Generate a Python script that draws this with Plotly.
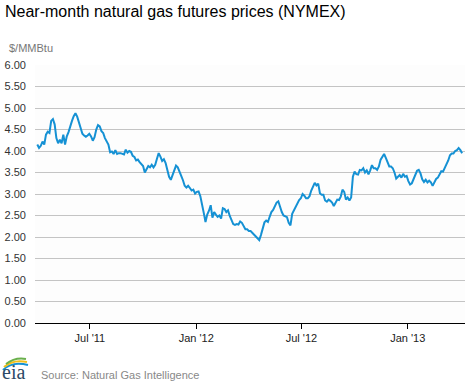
import pandas as pd
import plotly.graph_objects as go

# ---- data ----
start_date = "2011-04-01"
step = "3D"
prices = [
    4.15, 4.07, 4.12, 4.22, 4.15, 4.38, 4.45, 4.42, 4.70, 4.74,
    4.62, 4.30, 4.18, 4.26, 4.18, 4.38, 4.15, 4.34, 4.44, 4.59,
    4.70, 4.81, 4.88, 4.80, 4.68, 4.57, 4.40, 4.36, 4.33, 4.36,
    4.40, 4.34, 4.24, 4.32, 4.50, 4.60, 4.57, 4.46, 4.42, 4.30,
    4.24, 4.15, 3.97, 3.99, 3.93, 4.02, 3.93, 3.95, 3.95, 3.93,
    3.92, 4.03, 3.96, 4.00, 3.98, 3.89, 3.86, 3.78, 3.80, 3.74,
    3.69, 3.65, 3.50, 3.58, 3.65, 3.62, 3.68, 3.62, 3.68, 3.82,
    3.95, 3.87, 3.77, 3.81, 3.72, 3.56, 3.40, 3.33, 3.44, 3.54,
    3.66, 3.62, 3.50, 3.42, 3.32, 3.19, 3.15, 3.19, 3.14, 3.08,
    3.10, 3.01, 3.05, 3.06, 2.95, 2.78, 2.56, 2.35, 2.52, 2.61,
    2.74, 2.45, 2.58, 2.52, 2.47, 2.50, 2.43, 2.67, 2.65, 2.58,
    2.62, 2.49, 2.40, 2.30, 2.28, 2.30, 2.29, 2.36, 2.33, 2.25,
    2.18, 2.18, 2.14, 2.14, 2.10, 2.05, 2.02, 1.97, 1.93, 2.05,
    2.19, 2.34, 2.38, 2.35, 2.47, 2.58, 2.63, 2.70, 2.80, 2.83,
    2.70, 2.58, 2.50, 2.47, 2.46, 2.33, 2.27, 2.54, 2.63, 2.72,
    2.80, 2.86, 2.90, 3.00, 2.96, 2.90, 2.90, 2.95, 3.08, 3.18,
    3.26, 3.20, 3.24, 3.02, 2.98, 2.98, 2.85, 2.82, 2.87, 2.84,
    2.80, 2.72, 2.78, 2.87, 2.86, 2.94, 3.10, 3.05, 2.87, 2.92,
    2.85, 2.92, 3.40, 3.52, 3.46, 3.45, 3.56, 3.55, 3.60, 3.50,
    3.55, 3.46, 3.55, 3.67, 3.60, 3.60, 3.56, 3.64, 3.80, 3.86,
    3.93, 3.84, 3.72, 3.64, 3.64, 3.60, 3.50, 3.36, 3.40, 3.44,
    3.38, 3.47, 3.40, 3.42, 3.30, 3.22, 3.25, 3.35, 3.43, 3.54,
    3.56, 3.48, 3.34, 3.28, 3.33, 3.27, 3.31, 3.27, 3.19, 3.27,
    3.35, 3.38, 3.47, 3.53, 3.52, 3.60, 3.67, 3.78, 3.90, 3.94,
    3.94, 4.00, 4.02, 4.07, 4.02, 3.95,
]
dates = pd.date_range(start_date, periods=len(prices), freq=step)

tick_dates = ["2011-07-01", "2012-01-01", "2012-07-01", "2013-01-01"]
tick_labels = ["Jul '11", "Jan '12", "Jul '12", "Jan '13"]
y_ticks = [0, 0.5, 1, 1.5, 2, 2.5, 3, 3.5, 4, 4.5, 5, 5.5, 6]

title_text = "Near-month natural gas futures prices (NYMEX)"
unit_text = "$/MMBtu"
source_text = "Source: Natural Gas Intelligence"

# ---- figure ----
W, H = 470, 383
L, R, T, B = 35, 5, 65, 60
pw, ph = W - L - R, H - T - B


def px(x):
    return (x - L) / pw


def py(y):
    return (H - B - y) / ph


fig = go.Figure()
fig.add_trace(go.Scatter(
    x=dates, y=prices, mode="lines",
    line=dict(color="#1591d4", width=2),
    hoverinfo="skip", showlegend=False,
))

font = "Liberation Sans, Arial, sans-serif"

fig.update_layout(
    width=W, height=H,
    margin=dict(l=L, r=R, t=T, b=B),
    paper_bgcolor="white",
    plot_bgcolor="#fdfdfd",
    title=dict(text=title_text, x=5 / W, xanchor="left", xref="container",
               y=1 - 11 / H, yanchor="middle", yref="container",
               font=dict(family=font, size=16, color="#000")),
    xaxis=dict(
        range=["2011-03-28", "2013-04-10"],
        tickvals=tick_dates, ticktext=tick_labels,
        showgrid=False, showline=True, linecolor="#000", linewidth=1,
        ticks="outside", ticklen=5, tickcolor="#000",
        tickfont=dict(family=font, size=11, color="#222"),
        zeroline=False,
    ),
    yaxis=dict(
        range=[0, 6], tickvals=y_ticks, tickformat=".2f",
        showgrid=True, gridcolor="#c4c4c4", gridwidth=1,
        showline=False, zeroline=True, zerolinecolor="#000", zerolinewidth=1,
        ticks="", ticklabelstandoff=8,
        tickfont=dict(family=font, size=11, color="#333"),
    ),
    annotations=[
        dict(text=unit_text, x=px(7), y=py(48), xref="paper", yref="paper",
             xanchor="left", yanchor="middle", showarrow=False,
             font=dict(family=font, size=11, color="#777")),
        dict(text=source_text, x=px(39), y=py(375), xref="paper", yref="paper",
             xanchor="left", yanchor="middle", showarrow=False,
             font=dict(family=font, size=11, color="#888")),
        dict(text="eia", x=px(0), y=py(372), xref="paper", yref="paper",
             xanchor="left", yanchor="middle", showarrow=False,
             font=dict(family="Liberation Serif, serif", size=20, color="#2c4a66")),
    ],
)

# eia logo arcs
arcs = [
    ((3, 370), (12, 361), (28, 365), "#1591d4"),
    ((4, 367), (13, 359), (27, 362), "#f2c11a"),
    ((6, 364), (15, 357), (26, 359), "#6ab04c"),
]
for (x0, y0), (cx, cy), (x1, y1), col in arcs:
    fig.add_shape(
        type="path", xref="paper", yref="paper",
        path=f"M {px(x0)},{py(y0)} Q {px(cx)},{py(cy)} {px(x1)},{py(y1)}",
        line=dict(color=col, width=2), fillcolor="rgba(0,0,0,0)",
    )

fig.write_html(
    "out.html",
    config={"displayModeBar": False, "staticPlot": True},
    post_script="document.body.style.margin='0';document.body.style.overflow='hidden';",
)
